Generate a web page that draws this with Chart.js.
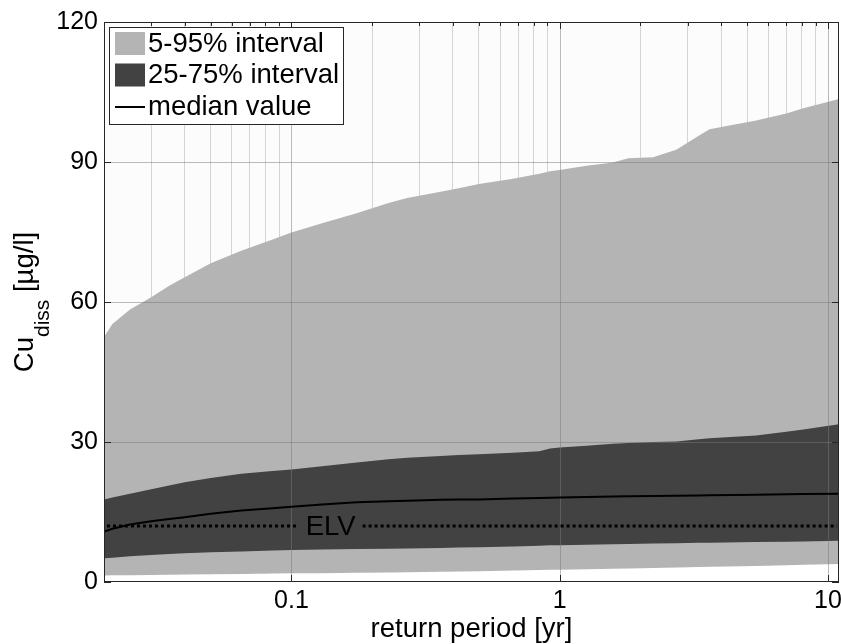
<!DOCTYPE html>
<html>
<head>
<meta charset="utf-8">
<script src="https://cdn.jsdelivr.net/npm/chart.js@4/dist/chart.umd.min.js"></script>
<style>
  html, body { margin: 0; padding: 0; background: #ffffff; }
  canvas { display: block; }
</style>
</head>
<body>
<canvas id="chart" width="841" height="644"></canvas>
<script>
// Return periods [yr] at which the quantiles of dissolved copper are given
const returnPeriod = [0.02, 0.0215, 0.025, 0.03, 0.035, 0.04, 0.05, 0.065, 0.085, 0.1, 0.13, 0.175, 0.23, 0.27, 0.36, 0.42, 0.5, 0.67, 0.84, 0.92, 1, 1.26, 1.58, 1.8, 2.23, 2.72, 3.3, 3.62, 5.4, 7, 8.1, 11];

// Quantiles of Cu_diss [µg/l]
const cuP05    = [1.4, 1.42, 1.45, 1.5, 1.55, 1.6, 1.65, 1.72, 1.8, 1.85, 1.9, 1.97, 2.05, 2.1, 2.2, 2.25, 2.3, 2.45, 2.55, 2.6, 2.65, 2.75, 2.85, 2.9, 3.0, 3.1, 3.2, 3.25, 3.45, 3.6, 3.7, 3.86];
const cuP25    = [5.1, 5.2, 5.5, 5.8, 6.0, 6.15, 6.35, 6.55, 6.75, 6.85, 6.95, 7.05, 7.15, 7.2, 7.3, 7.4, 7.45, 7.6, 7.75, 7.85, 7.9, 8.0, 8.1, 8.15, 8.25, 8.3, 8.4, 8.42, 8.55, 8.65, 8.7, 8.86];
const cuMedian = [10.8, 11.4, 12.3, 13.0, 13.5, 13.9, 14.6, 15.3, 15.8, 16.1, 16.6, 17.1, 17.3, 17.4, 17.6, 17.7, 17.7, 17.9, 18.0, 18.05, 18.1, 18.2, 18.3, 18.35, 18.45, 18.5, 18.55, 18.6, 18.7, 18.8, 18.85, 18.9];
const cuP75    = [17.7, 18.1, 18.9, 19.9, 20.7, 21.4, 22.3, 23.2, 23.8, 24.1, 24.8, 25.6, 26.3, 26.6, 27.0, 27.2, 27.4, 27.7, 28.0, 28.6, 28.8, 29.2, 29.6, 29.8, 30.0, 30.1, 30.6, 30.8, 31.4, 32.2, 32.7, 33.8];
const cuP95    = [52.5, 55.3, 58.4, 61.0, 63.5, 65.3, 68.3, 71.0, 73.4, 74.9, 76.9, 79.0, 81.2, 82.3, 83.6, 84.4, 85.3, 86.4, 87.5, 88.0, 88.3, 89.2, 89.9, 90.8, 91.0, 92.6, 95.6, 97.0, 98.9, 100.4, 101.5, 103.5];

// Emission limit value
const elvValue = 12;
const elvText = 'ELV';
const elvLabelAt = 0.14;

// Axes
const xRange = [0.02, 11];
const yRange = [0, 120];
const majorPeriods = [0.1, 1, 10];
const majorPeriodLabels = ['0.1', '1', '10'];
const minorPeriods = [0.03, 0.04, 0.05, 0.06, 0.07, 0.08, 0.09,
                      0.2, 0.3, 0.4, 0.5, 0.6, 0.7, 0.8, 0.9,
                      2, 3, 4, 5, 6, 7, 8, 9];
const yTickValues = [0, 30, 60, 90, 120];
const xTitle = 'return period [yr]';
const yTitleMain = 'Cu';
const yTitleSub = 'diss';
const yTitleRest = ' [\u00B5g/l]';
const legendLabels = ['5-95% interval', '25-75% interval', 'median value'];

// Styling
const FONT = "'Liberation Sans', Arial, Helvetica, sans-serif";
const LIGHT = '#b4b4b4';
const DARK = '#424242';
const AXIS = '#262626';
const MEDIAN_INDEX = 4;

const allPeriodTicks = [...minorPeriods, ...majorPeriods].sort((a, b) => a - b);
const points = ys => returnPeriod.map((t, i) => ({ x: t, y: ys[i] }));

const decorPlugin = {
  id: 'decor',
  beforeDraw(chart) {
    const { ctx, chartArea: a } = chart;
    ctx.save();
    ctx.fillStyle = '#fcfcfc';
    ctx.fillRect(a.left, a.top, a.right - a.left, a.bottom - a.top);
    ctx.restore();
  },
  // major grid lines sit above the bands but below the median line
  beforeDatasetDraw(chart, args) {
    if (args.index !== MEDIAN_INDEX) return;
    const { ctx, chartArea: a, scales: { x, y } } = chart;
    ctx.save();
    ctx.strokeStyle = 'rgba(120,120,120,0.5)';
    ctx.lineWidth = 1;
    ctx.beginPath();
    majorPeriods.forEach(v => {
      const px = Math.round(x.getPixelForValue(v)) + 0.5;
      ctx.moveTo(px, a.top); ctx.lineTo(px, a.bottom);
    });
    yTickValues.forEach(v => {
      if (v <= yRange[0] || v >= yRange[1]) return;
      const py = Math.round(y.getPixelForValue(v)) + 0.5;
      ctx.moveTo(a.left, py); ctx.lineTo(a.right, py);
    });
    ctx.stroke();
    ctx.restore();
  },
  afterDatasetsDraw(chart) {
    const { ctx, chartArea: a, scales: { x, y } } = chart;
    const py = y.getPixelForValue(elvValue);
    const cx = x.getPixelForValue(elvLabelAt);
    ctx.save();
    ctx.font = `27.5px ${FONT}`;
    const half = ctx.measureText(elvText).width / 2 + 7;
    ctx.beginPath();
    ctx.rect(a.left, a.top, a.right - a.left, a.bottom - a.top);
    ctx.clip();
    ctx.strokeStyle = '#000';
    ctx.lineWidth = 3;
    ctx.setLineDash([3, 3]);
    ctx.beginPath();
    ctx.moveTo(x.getPixelForValue(xRange[0]) + 3, py);
    ctx.lineTo(cx - half, py);
    ctx.moveTo(cx + half, py);
    ctx.lineTo(x.getPixelForValue(xRange[1]) - 2, py);
    ctx.stroke();
    ctx.setLineDash([]);
    ctx.fillStyle = '#000';
    ctx.textAlign = 'center';
    ctx.textBaseline = 'middle';
    ctx.fillText(elvText, cx, py + 1);
    ctx.restore();
  },
  afterDraw(chart) {
    const { ctx, chartArea: a, scales: { x, y } } = chart;
    ctx.save();
    // axes box
    ctx.strokeStyle = AXIS;
    ctx.lineWidth = 1;
    ctx.strokeRect(a.left + 0.5, a.top + 0.5, a.right - a.left - 1, a.bottom - a.top - 1);
    // inward tick marks
    ctx.beginPath();
    majorPeriods.forEach(v => {
      const px = Math.round(x.getPixelForValue(v)) + 0.5;
      ctx.moveTo(px, a.bottom); ctx.lineTo(px, a.bottom - 7);
      ctx.moveTo(px, a.top); ctx.lineTo(px, a.top + 7);
    });
    minorPeriods.forEach(v => {
      const px = Math.round(x.getPixelForValue(v)) + 0.5;
      ctx.moveTo(px, a.top); ctx.lineTo(px, a.top + 4);
    });
    yTickValues.forEach(v => {
      const py = Math.round(y.getPixelForValue(v)) + 0.5;
      ctx.moveTo(a.left, py); ctx.lineTo(a.left + 7, py);
      ctx.moveTo(a.right, py); ctx.lineTo(a.right - 7, py);
    });
    ctx.stroke();

    // legend
    const lx = a.left + 5, ly = a.top + 5, lw = 234, lh = 97;
    ctx.fillStyle = '#ffffff';
    ctx.fillRect(lx, ly, lw, lh);
    ctx.strokeStyle = AXIS;
    ctx.strokeRect(lx + 0.5, ly + 0.5, lw, lh);
    const rows = [ly + 16.5, ly + 48, ly + 80];
    ctx.fillStyle = LIGHT;
    ctx.fillRect(lx + 6, rows[0] - 11.5, 30, 23);
    ctx.fillStyle = DARK;
    ctx.fillRect(lx + 6, rows[1] - 11.5, 30, 23);
    ctx.strokeStyle = '#000';
    ctx.lineWidth = 2;
    ctx.beginPath();
    ctx.moveTo(lx + 6, rows[2]); ctx.lineTo(lx + 36, rows[2]);
    ctx.stroke();
    ctx.fillStyle = '#000';
    ctx.font = `27.5px ${FONT}`;
    ctx.textAlign = 'left';
    ctx.textBaseline = 'middle';
    legendLabels.forEach((t, i) => ctx.fillText(t, lx + 39, rows[i] + 0.5));

    // y-axis title with subscript
    const mainFont = `27.5px ${FONT}`, subFont = `21px ${FONT}`;
    ctx.font = mainFont;
    const wMain = ctx.measureText(yTitleMain).width;
    const wRest = ctx.measureText(yTitleRest).width;
    ctx.font = subFont;
    const wSub = ctx.measureText(yTitleSub).width;
    const total = wMain + wSub + wRest;
    ctx.translate(33, (a.top + a.bottom) / 2);
    ctx.rotate(-Math.PI / 2);
    ctx.textBaseline = 'alphabetic';
    const s = -total / 2;
    ctx.font = mainFont;
    ctx.fillText(yTitleMain, s, 0);
    ctx.font = subFont;
    ctx.fillText(yTitleSub, s + wMain, 16);
    ctx.font = mainFont;
    ctx.fillText(yTitleRest, s + wMain + wSub, 0);
    ctx.restore();
  }
};

new Chart(document.getElementById('chart'), {
  type: 'line',
  data: {
    datasets: [
      { label: 'below 5%', data: points(cuP05), fill: 'origin', backgroundColor: '#ffffff', borderWidth: 0, order: 6 },
      { label: legendLabels[0], data: points(cuP95), fill: '-1', backgroundColor: LIGHT, borderWidth: 0, order: 5 },
      { label: '25%', data: points(cuP25), fill: false, borderWidth: 0, order: 4 },
      { label: legendLabels[1], data: points(cuP75), fill: '-1', backgroundColor: DARK, borderWidth: 0, order: 3 },
      { label: legendLabels[2], data: points(cuMedian), fill: false, borderColor: '#000', borderWidth: 2, order: 1 }
    ]
  },
  options: {
    responsive: false,
    animation: false,
    devicePixelRatio: 1,
    elements: { point: { radius: 0, hoverRadius: 0 }, line: { tension: 0 } },
    layout: { padding: { left: 0, right: 2, top: 22, bottom: 0 } },
    plugins: { legend: { display: false }, tooltip: { enabled: false } },
    scales: {
      x: {
        type: 'logarithmic',
        min: xRange[0],
        max: xRange[1],
        afterBuildTicks: s => { s.ticks = allPeriodTicks.map(v => ({ value: v })); },
        afterFit: s => { s.height = 62; s.paddingLeft = 0; s.paddingRight = 0; },
        border: { display: false },
        grid: {
          drawTicks: false,
          lineWidth: 1,
          color: c => (c.tick && majorPeriods.includes(c.tick.value)) ? 'rgba(0,0,0,0)' : '#d4d4d4'
        },
        ticks: {
          autoSkip: false, maxRotation: 0, minRotation: 0, padding: 4,
          color: '#000', font: { family: FONT, size: 25 },
          callback: v => { const i = majorPeriods.indexOf(v); return i >= 0 ? majorPeriodLabels[i] : ''; }
        },
        title: { display: true, text: xTitle, color: '#000', font: { family: FONT, size: 27.5 }, padding: { top: 0, bottom: -2 } }
      },
      y: {
        min: yRange[0],
        max: yRange[1],
        afterBuildTicks: s => { s.ticks = yTickValues.map(v => ({ value: v })); },
        afterFit: s => { s.width = 104; s.paddingTop = 0; s.paddingBottom = 0; },
        border: { display: false },
        grid: { display: false, drawTicks: false },
        ticks: { padding: 6, color: '#000', font: { family: FONT, size: 25 } }
      }
    }
  },
  plugins: [decorPlugin]
});
</script>
</body>
</html>
